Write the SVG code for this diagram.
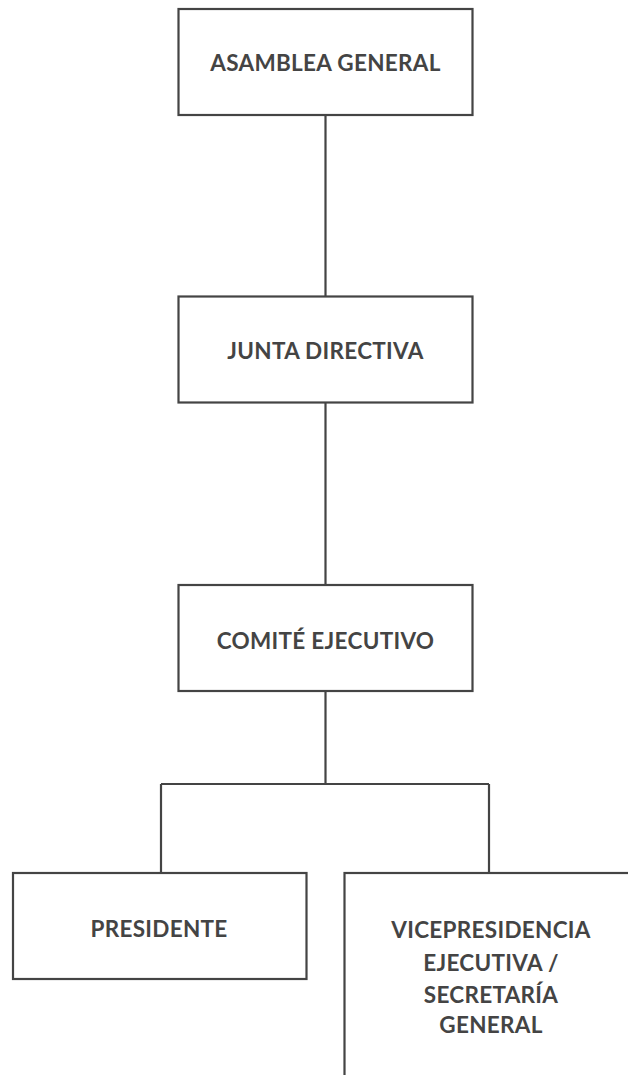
<svg xmlns="http://www.w3.org/2000/svg" width="628" height="1075" viewBox="0 0 628 1075">
<style>
.box{fill:#fff;stroke:#444;stroke-width:2.2}
.lbl{font-family:Lato,"Liberation Sans",sans-serif;font-weight:700;font-size:22.5px;letter-spacing:0.3px;fill:#444;text-anchor:middle}
.con{fill:none;stroke:#444;stroke-width:2.2}
</style>
<rect width="628" height="1075" fill="#fff"/>
<g id="connectors">
<path class="con" d="M325.5 115V296.5M325.5 402.5V585M325.5 691V784M161 784H489M161 784V873M489 784V873"/>
</g>
<g id="asamblea">
<rect class="box" x="178.5" y="9" width="294" height="106"/>
<text class="lbl" x="325.5" y="70.5">ASAMBLEA GENERAL</text>
</g>
<g id="junta">
<rect class="box" x="178.5" y="296.5" width="294" height="106"/>
<text class="lbl" x="325.5" y="359">JUNTA DIRECTIVA</text>
</g>
<g id="comite">
<rect class="box" x="178.5" y="585" width="294" height="106"/>
<text class="lbl" x="325.5" y="648.5">COMITÉ EJECUTIVO</text>
</g>
<g id="presidente">
<rect class="box" x="13" y="873" width="293.5" height="106"/>
<text class="lbl" x="159" y="936.5">PRESIDENTE</text>
</g>
<g id="vicepresidencia">
<rect class="box" x="344.5" y="873" width="294" height="300"/>
<text class="lbl" x="491" y="937.5">VICEPRESIDENCIA</text>
<text class="lbl" x="491" y="970.5">EJECUTIVA /</text>
<text class="lbl" x="491" y="1002.5">SECRETARÍA</text>
<text class="lbl" x="491" y="1033">GENERAL</text>
</g>
</svg>
